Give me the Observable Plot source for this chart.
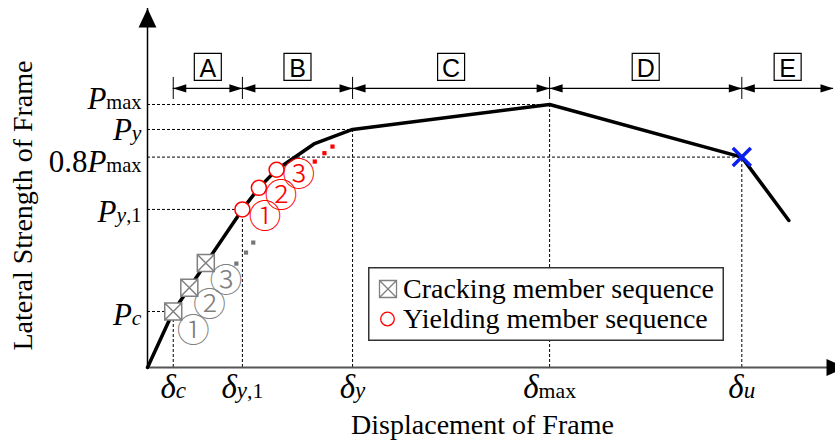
<!DOCTYPE html>
<html><head><meta charset="utf-8">
<script src="https://cdn.jsdelivr.net/npm/d3@7"></script>
<script src="https://cdn.jsdelivr.net/npm/@observablehq/plot@0.6"></script>
<style>
html,body{margin:0;padding:0;background:#fff;overflow:hidden}
#wrap{position:relative;width:835px;height:441px}
#wrap svg{display:block}
</style></head><body><div id="wrap"></div>
<script>
// ---------- data (arbitrary units) ----------
const dispKeys = ["δc", "δy,1", "δy", "δmax", "δu"];
const disp = [6.4, 23.6, 51.0, 100, 147.8];
const strengthKeys = ["Pmax", "Py", "0.8Pmax", "Py,1", "Pc"];
const strength = [100, 90.5, 80, 60.1, 21.3];
// each displacement guide meets this strength
const guideStrength = [21.3, 60.1, 90.5, 100, 80];

const curveX = [0, 6.4, 23.6, 27.7, 32.1, 41.4, 51.0, 100, 147.8, 159.5];
const curveY = [0, 21.3, 60.1, 68.3, 75.2, 85.0, 90.5, 100, 80, 55.9];

const crackX = [6.4, 10.4, 14.5];
const crackY = [21.3, 30.3, 39.7];
const crackMoreX = [22.1, 24.5, 26.3];
const crackMoreY = [39.5, 43.7, 47.5];
const crackNumX = [11.4, 15.4, 19.5];
const crackNumY = [13.6, 23.6, 32.9];

const yieldX = [23.6, 27.7, 32.1];
const yieldY = [60.1, 68.3, 75.2];
const yieldMoreX = [41.6, 44.0, 46.0];
const yieldMoreY = [78.3, 81.5, 84.0];
const yieldNumX = [29.2, 33.2, 37.6];
const yieldNumY = [57.2, 64.9, 73.1];

const seqNums = ["①", "②", "③"];
const ultimateX = [147.8];
const ultimateY = [80];

const regionNames = ["A", "B", "C", "D", "E"];
const regionStart = [6.4, 23.6, 51.0, 100, 147.8];
const regionEnd = [23.6, 51.0, 100, 147.8, 170.6];

const legendLabels = ["Cracking member sequence", "Yielding member sequence"];
const xTitle = "Displacement of Frame";
const yTitle = "Lateral Strength of Frame";

// ---------- tables ----------
const guides = disp.map((d, i) => ({d, p: guideStrength[i]}));
const curve = curveX.map((x, i) => ({x, y: curveY[i]}));
const cracks = crackX.map((x, i) => ({x, y: crackY[i]}));
const cracksMore = crackMoreX.map((x, i) => ({x, y: crackMoreY[i]}));
const crackNums = seqNums.map((t, i) => ({t, x: crackNumX[i], y: crackNumY[i]}));
const yields = yieldX.map((x, i) => ({x, y: yieldY[i]}));
const yieldsMore = yieldMoreX.map((x, i) => ({x, y: yieldMoreY[i]}));
const yieldNums = seqNums.map((t, i) => ({t, x: yieldNumX[i], y: yieldNumY[i]}));
const ultimate = ultimateX.map((x, i) => ({x, y: ultimateY[i]}));
const regions = regionNames.map((name, i) => ({name, start: regionStart[i], end: regionEnd[i], mid: (regionStart[i] + regionEnd[i]) / 2}));

// ---------- custom symbols ----------
const rad = s => Math.sqrt(s / Math.PI);
const head = ratio => ({draw(ctx, size) { const L = rad(size), W = L * ratio; ctx.moveTo(0, 0); ctx.lineTo(-L, -W); ctx.lineTo(-L, W); ctx.closePath(); }});
const squareSym = {draw(ctx, size) { const r = rad(size); ctx.moveTo(-r, -r); ctx.lineTo(r, -r); ctx.lineTo(r, r); ctx.lineTo(-r, r); ctx.closePath(); }};
const crossBox = {draw(ctx, size) { const r = rad(size); ctx.moveTo(-r, -r); ctx.lineTo(r, -r); ctx.lineTo(r, r); ctx.lineTo(-r, r); ctx.closePath(); ctx.moveTo(-r, -r); ctx.lineTo(r, r); ctx.moveTo(r, -r); ctx.lineTo(-r, r); }};
const xSym = {draw(ctx, size) { const r = rad(size); ctx.moveTo(-r, -r); ctx.lineTo(r, r); ctx.moveTo(r, -r); ctx.lineTo(-r, r); }};

const GRAY = "#808080", RED = "#ff0000", BLUE = "#0a1ef0";
const ANN_Y = 106.1, TICK_Y1 = 101.9, TICK_Y2 = 110.3, LAB_Y = 114.3;
const yShift = {"Pmax": 5, "Py": 11, "0.8Pmax": 15, "Py,1": 13, "Pc": 14};
const NUM_FONT = "'Noto Sans CJK JP', 'Noto Sans CJK SC', sans-serif";

const svg = Plot.plot({
  width: 835, height: 441,
  marginLeft: 147, marginRight: 0, marginTop: 8, marginBottom: 74,
  x: {domain: [0, 171.1], axis: null},
  y: {domain: [0, 136.5], axis: null},
  style: {fontFamily: "Liberation Serif", background: "white", overflow: "hidden"},
  marks: [
    Plot.ruleY(guides, {y: "p", x1: 0, x2: "d", stroke: "#000", strokeWidth: 1, strokeDasharray: "3,2"}),
    Plot.ruleX(guides, {x: "d", y1: 0, y2: "p", stroke: "#000", strokeWidth: 1, strokeDasharray: "3,2"}),
    Plot.ruleY([0], {stroke: "#555", strokeWidth: 2}),
    Plot.ruleX([0], {stroke: "#000", strokeWidth: 1.5}),
    Plot.dot([0], {frameAnchor: "top-left", symbol: head(0.47), r: 19, rotate: -90, fill: "#000", stroke: "none"}),
    Plot.dot([0], {frameAnchor: "bottom-right", dx: 10, symbol: head(0.45), r: 19, rotate: 0, fill: "#000", stroke: "none"}),
    Plot.line(curve, {x: "x", y: "y", stroke: "#000", strokeWidth: 3.5, strokeLinejoin: "round"}),
    // region annotation
    Plot.ruleY(regions, {y: ANN_Y, x1: "start", x2: "end", stroke: "#000", strokeWidth: 1.2}),
    Plot.ruleX(regionStart, {x: d => d, y1: TICK_Y1, y2: TICK_Y2, stroke: "#000", strokeWidth: 1}),
    Plot.dot(regions, {x: "start", y: ANN_Y, symbol: head(0.32), r: 13, rotate: 180, fill: "#000", stroke: "none"}),
    Plot.dot(regions, {x: "end", y: ANN_Y, symbol: head(0.32), r: 13, rotate: 0, fill: "#000", stroke: "none"}),
    Plot.dot(regions, {x: "mid", y: LAB_Y, symbol: squareSym, r: 13.5, fill: "#fff", stroke: "#000", strokeWidth: 1.2}),
    Plot.text(regions, {x: "mid", y: LAB_Y, text: "name", fontFamily: "Liberation Sans", fontSize: 25, dy: 2}),
    // sequences
    Plot.dot(cracksMore, {x: "x", y: "y", symbol: squareSym, r: 2.1, fill: "#777", stroke: "none"}),
    Plot.dot(yieldsMore, {x: "x", y: "y", symbol: squareSym, r: 2.1, fill: RED, stroke: "none"}),
    Plot.dot(cracks, {x: "x", y: "y", symbol: crossBox, r: 8.5, fill: "#fff", stroke: GRAY, strokeWidth: 1.5}),
    Plot.dot(yields, {x: "x", y: "y", r: 7.5, fill: "#fff", stroke: RED, strokeWidth: 1.5}),
    Plot.text(crackNums, {x: "x", y: "y", text: "t", fill: GRAY, fontSize: 33, fontWeight: 300, fontFamily: NUM_FONT, lineAnchor: "middle"}),
    Plot.text(yieldNums, {x: "x", y: "y", text: "t", fill: RED, fontSize: 33, fontWeight: 300, fontFamily: NUM_FONT, lineAnchor: "middle"}),
    Plot.dot(ultimate, {x: "x", y: "y", symbol: xSym, r: 9, fill: "none", stroke: BLUE, strokeWidth: 3.5}),
    // tick labels
    Plot.text(dispKeys, {x: (d, i) => disp[i], frameAnchor: "bottom", dy: 30, lineAnchor: "bottom", textAnchor: "middle", fontSize: 33}),
    ...strengthKeys.map((k, i) => Plot.text([k], {y: strength[i], frameAnchor: "left", dx: -6, dy: yShift[k], textAnchor: "end", lineAnchor: "bottom", fontSize: 31})),
    // axis titles
    Plot.text([xTitle], {frameAnchor: "bottom", dx: -9, dy: 66, lineAnchor: "bottom", textAnchor: "middle", fontSize: 28}),
    Plot.text([yTitle], {frameAnchor: "left", rotate: -90, dx: -116, dy: 17.5, lineAnchor: "bottom", textAnchor: "middle", fontSize: 28})
  ]
});

// mixed italic / roman label parts
const parts = {
  "Pmax": [["P", "i"], ["max", "s"]],
  "Py": [["P", "i"], ["y", "is"]],
  "0.8Pmax": [["0.8", "r"], ["P", "i"], ["max", "s"]],
  "Py,1": [["P", "i"], ["y", "is"], [",1", "s"]],
  "Pc": [["P", "i"], ["c", "is"]],
  "δc": [["δ", "i"], ["c", "is"]],
  "δy,1": [["δ", "i"], ["y", "is"], [",1", "s"]],
  "δy": [["δ", "i"], ["y", "is"]],
  "δmax": [["δ", "i"], ["max", "s"]],
  "δu": [["δ", "i"], ["u", "is"]]
};
d3.select(svg).selectAll("text").each(function() {
  const k = this.textContent;
  if (!parts[k]) return;
  const sel = d3.select(this);
  sel.text(null);
  for (const [t, s] of parts[k]) {
    const ts = sel.append("tspan").text(t).attr("font-style", s.includes("i") ? "italic" : "normal");
    if (s.includes("s")) ts.attr("font-size", s.includes("i") ? "0.7em" : "0.66em");
  }
});

const wrap = document.getElementById("wrap");
wrap.appendChild(svg);

// legend (inside the plot area)
const lg = d3.select(wrap).append("svg")
  .attr("width", 356).attr("height", 74)
  .style("position", "absolute").style("left", "368px").style("top", "267px");
lg.append("rect").attr("x", 0.75).attr("y", 0.75).attr("width", 354.5).attr("height", 72.5)
  .attr("fill", "#fff").attr("stroke", "#333").attr("stroke-width", 1.5);
lg.append("path").attr("transform", "translate(20,22)")
  .attr("d", "M-8.5,-8.5H8.5V8.5H-8.5Z M-8.5,-8.5L8.5,8.5 M8.5,-8.5L-8.5,8.5")
  .attr("fill", "#fff").attr("stroke", GRAY).attr("stroke-width", 1.3);
lg.append("circle").attr("cx", 19.5).attr("cy", 52).attr("r", 6.8)
  .attr("fill", "#fff").attr("stroke", RED).attr("stroke-width", 1.3);
lg.selectAll("text.l").data(legendLabels).join("text")
  .attr("x", 35).attr("y", (d, i) => 31 + i * 30)
  .attr("font-family", "Liberation Serif").attr("font-size", 28)
  .text(d => d);
</script></body></html>
